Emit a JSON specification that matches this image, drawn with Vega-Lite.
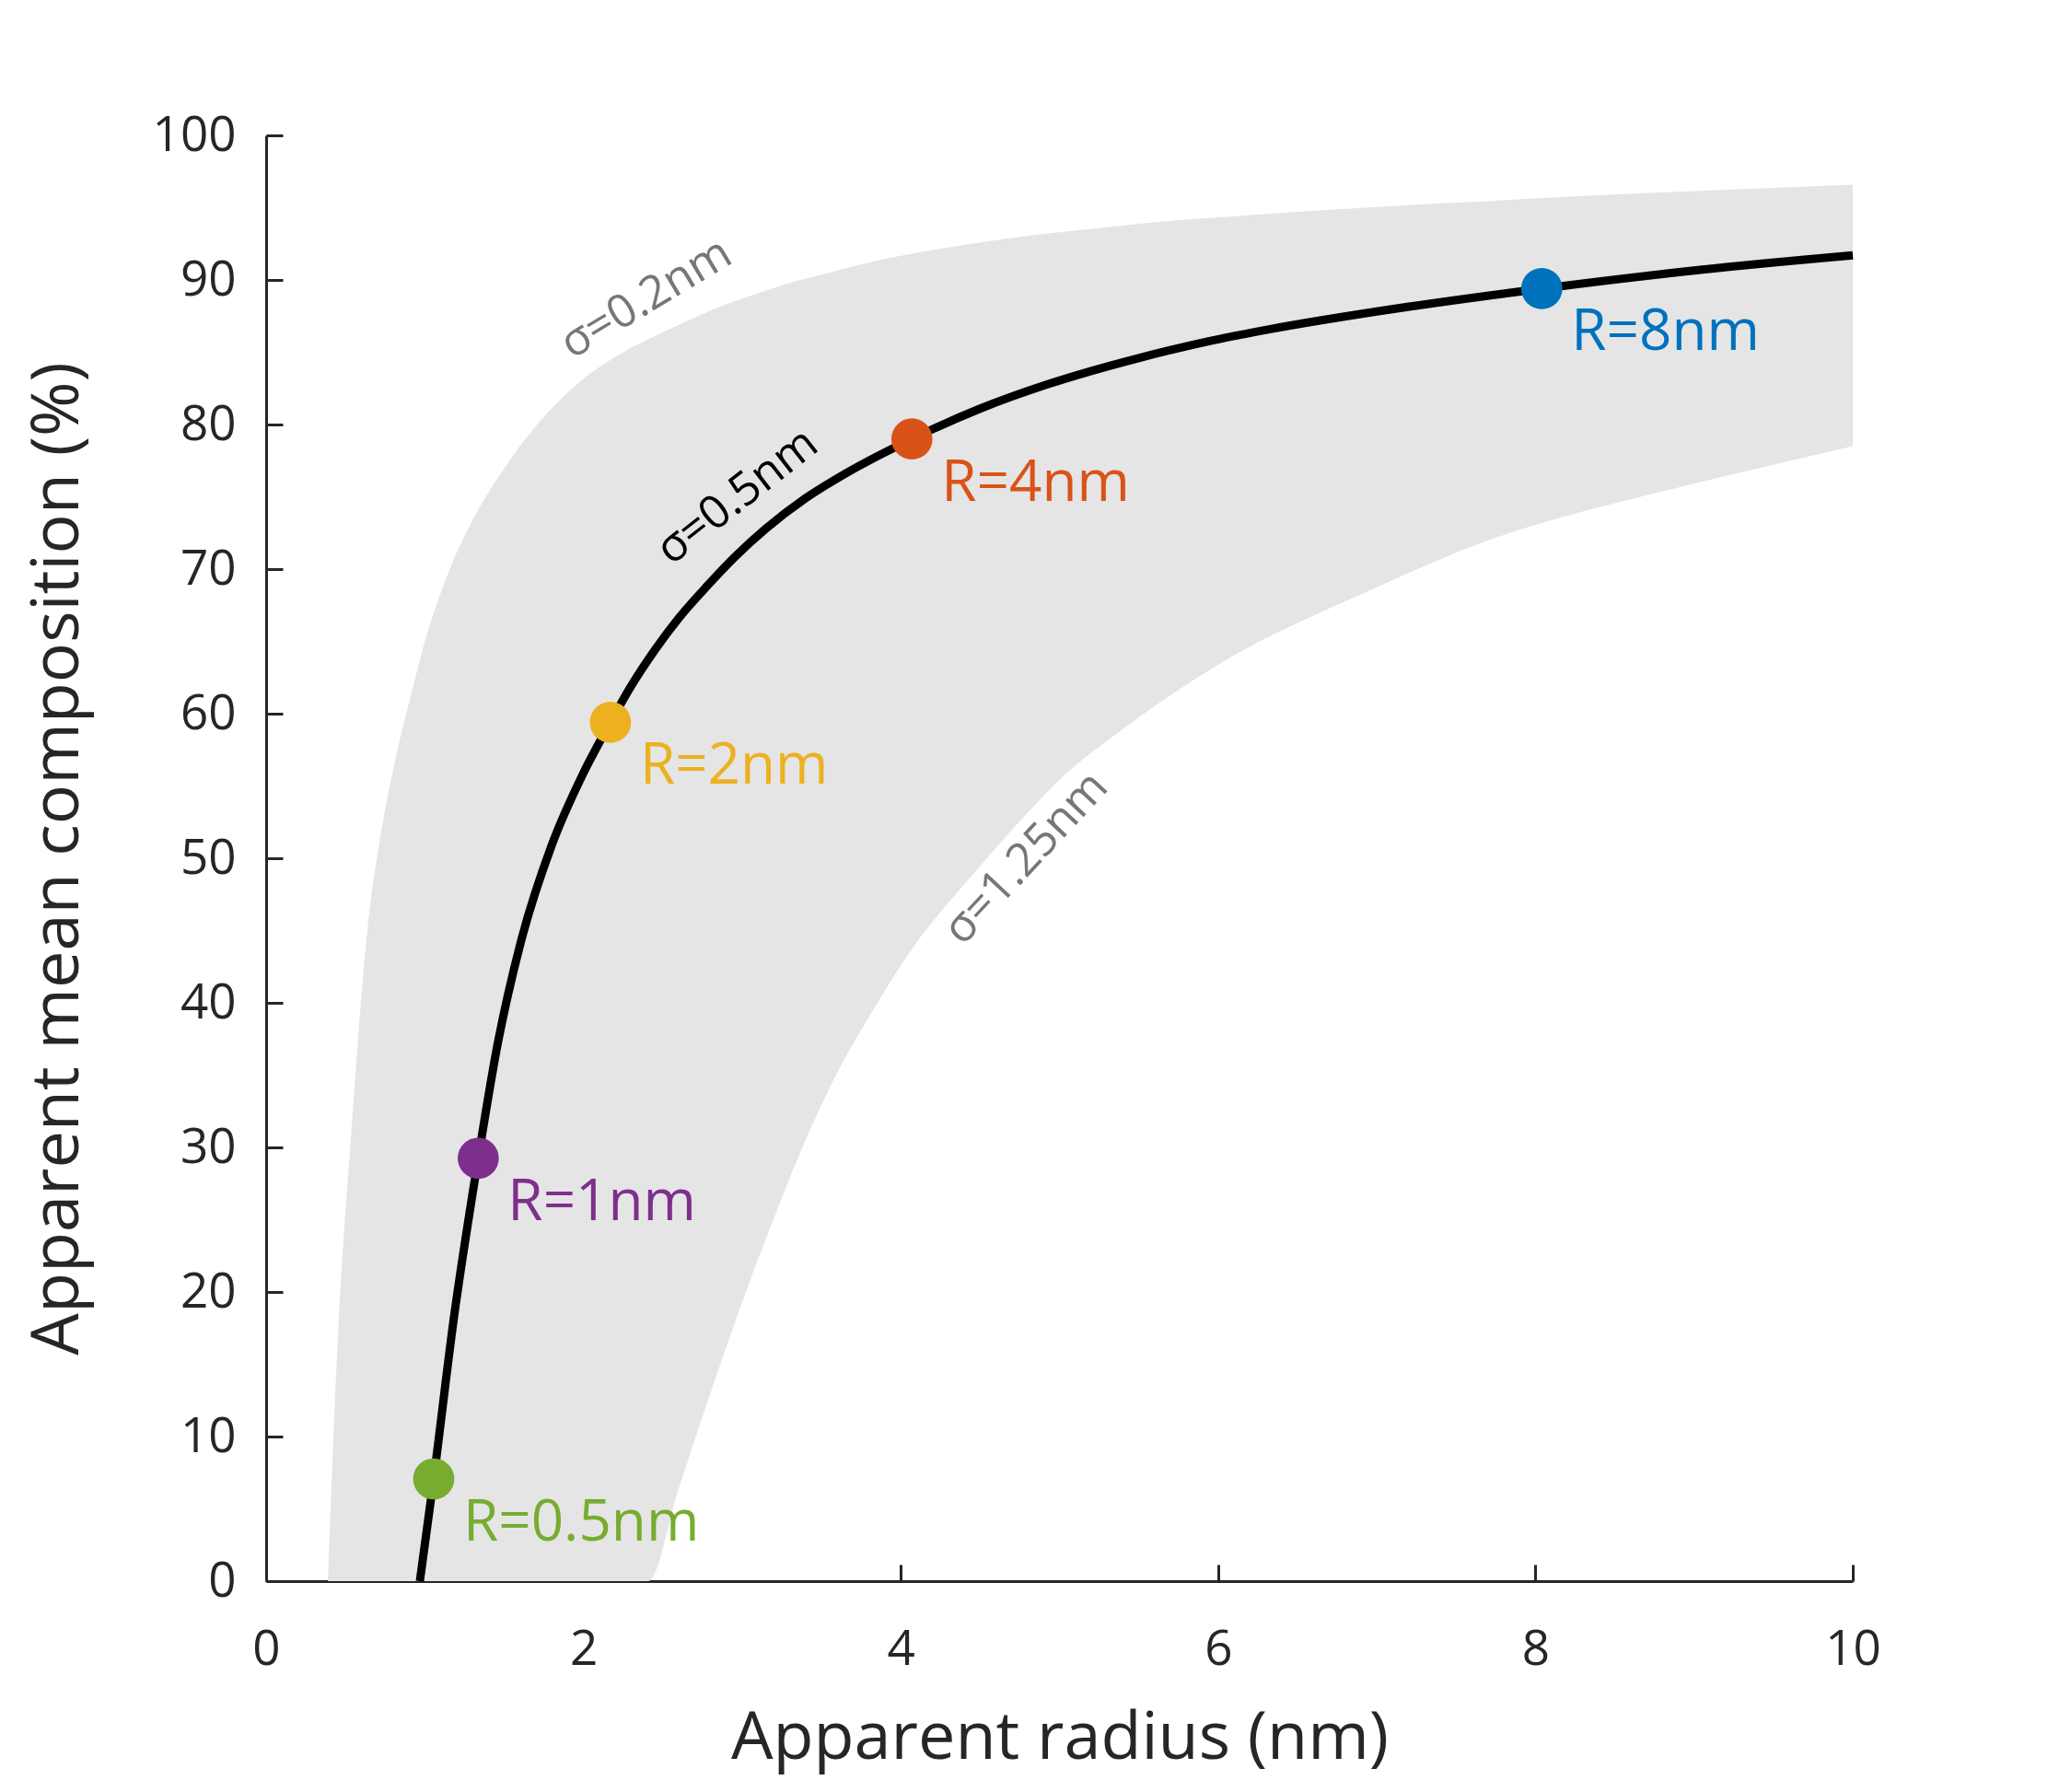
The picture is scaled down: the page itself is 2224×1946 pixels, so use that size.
{
  "$schema": "https://vega.github.io/schema/vega-lite/v6.json",
  "width": 1723,
  "height": 1570,
  "autosize": "none",
  "padding": {"left": 289, "top": 147, "right": 212, "bottom": 229},
  "background": "white",
  "config": {
    "view": {"stroke": null},
    "font": "Open Sans",
    "axis": {
      "labelFont": "Open Sans",
      "titleFont": "Open Sans",
      "labelColor": "#262626",
      "titleColor": "#262626",
      "domainColor": "#262626",
      "tickColor": "#262626",
      "domainWidth": 3,
      "tickWidth": 3,
      "tickSize": -18,
      "grid": false,
      "labelFlush": false,
      "labelFontSize": 53,
      "titleFontSize": 72,
      "titleFontWeight": "normal"
    }
  },
  "layer": [
    {
      "data": {
        "values": [
          {"x": 0.389, "lo": 0, "hi": 0},
          {"x": 0.406, "lo": 0, "hi": 4.9},
          {"x": 0.455, "lo": 0, "hi": 17.5},
          {"x": 0.537, "lo": 0, "hi": 31.0},
          {"x": 0.636, "lo": 0, "hi": 44.8},
          {"x": 0.736, "lo": 0, "hi": 52.5},
          {"x": 0.818, "lo": 0, "hi": 57.0},
          {"x": 0.934, "lo": 0, "hi": 62.2},
          {"x": 1.0, "lo": 0, "hi": 65.0},
          {"x": 1.089, "lo": 0, "hi": 68.0},
          {"x": 1.18, "lo": 0, "hi": 70.6},
          {"x": 1.283, "lo": 0, "hi": 73.0},
          {"x": 1.515, "lo": 0, "hi": 77.2},
          {"x": 1.708, "lo": 0, "hi": 80.0},
          {"x": 1.94, "lo": 0, "hi": 82.6},
          {"x": 2.25, "lo": 0, "hi": 85.0},
          {"x": 2.41, "lo": 0, "hi": 85.9},
          {"x": 2.6, "lo": 6.4, "hi": 86.9},
          {"x": 2.85, "lo": 14.6, "hi": 88.1},
          {"x": 3.05, "lo": 20.8, "hi": 88.9},
          {"x": 3.2, "lo": 25.1, "hi": 89.45},
          {"x": 3.353, "lo": 29.3, "hi": 89.95},
          {"x": 3.546, "lo": 34.0, "hi": 90.5},
          {"x": 3.836, "lo": 39.7, "hi": 91.3},
          {"x": 4.088, "lo": 44.0, "hi": 91.85},
          {"x": 4.417, "lo": 48.4, "hi": 92.45},
          {"x": 4.804, "lo": 53.2, "hi": 93.05},
          {"x": 4.997, "lo": 55.4, "hi": 93.3},
          {"x": 5.384, "lo": 58.8, "hi": 93.75},
          {"x": 5.771, "lo": 61.8, "hi": 94.15},
          {"x": 6.158, "lo": 64.4, "hi": 94.45},
          {"x": 6.545, "lo": 66.5, "hi": 94.75},
          {"x": 6.932, "lo": 68.4, "hi": 95.0},
          {"x": 7.319, "lo": 70.3, "hi": 95.25},
          {"x": 7.706, "lo": 72.0, "hi": 95.45},
          {"x": 8.015, "lo": 73.1, "hi": 95.65},
          {"x": 9.0, "lo": 75.9, "hi": 96.15},
          {"x": 10, "lo": 78.5, "hi": 96.6}
        ]
      },
      "mark": {"type": "area", "color": "#e5e5e5", "interpolate": "monotone"},
      "encoding": {
        "x": {
          "field": "x", "type": "quantitative",
          "scale": {"domain": [0, 10], "nice": false},
          "axis": {
            "values": [0, 2, 4, 6, 8, 10],
            "format": "d",
            "title": "Apparent radius (nm)",
            "labelPadding": 66,
            "titlePadding": 34
          }
        },
        "y": {
          "field": "lo", "type": "quantitative",
          "scale": {"domain": [0, 100], "nice": false},
          "axis": {
            "values": [0, 10, 20, 30, 40, 50, 60, 70, 80, 90, 100],
            "format": "d",
            "title": "Apparent mean composition (%)",
            "labelPadding": 51,
            "titlePadding": 66
          }
        },
        "y2": {"field": "hi"}
      }
    },
    {
      "data": {
        "values": [
          {"x": 0.969, "y": 0},
          {"x": 1.056, "y": 7.07},
          {"x": 1.182, "y": 18.1},
          {"x": 1.337, "y": 29.25},
          {"x": 1.46, "y": 37.2},
          {"x": 1.605, "y": 44.2},
          {"x": 1.8, "y": 50.9},
          {"x": 2.0, "y": 55.9},
          {"x": 2.17, "y": 59.4},
          {"x": 2.3, "y": 61.9},
          {"x": 2.45, "y": 64.4},
          {"x": 2.6, "y": 66.6},
          {"x": 2.76, "y": 68.6},
          {"x": 2.95, "y": 70.8},
          {"x": 3.15, "y": 72.8},
          {"x": 3.4, "y": 74.9},
          {"x": 3.65, "y": 76.6},
          {"x": 4.07, "y": 79.0},
          {"x": 4.5, "y": 81.1},
          {"x": 4.93, "y": 82.8},
          {"x": 5.5, "y": 84.6},
          {"x": 5.96, "y": 85.8},
          {"x": 6.33, "y": 86.6},
          {"x": 6.99, "y": 87.8},
          {"x": 8.04, "y": 89.4},
          {"x": 9.04, "y": 90.7},
          {"x": 10, "y": 91.7}
        ]
      },
      "mark": {"type": "line", "color": "black", "strokeWidth": 9, "interpolate": "monotone"},
      "encoding": {
        "x": {"field": "x", "type": "quantitative"},
        "y": {"field": "y", "type": "quantitative"}
      }
    },
    {
      "data": {
        "values": [
          {"x": 1.056, "y": 7.07, "label": "R=0.5nm"},
          {"x": 1.337, "y": 29.25, "label": "R=1nm"},
          {"x": 2.17, "y": 59.4, "label": "R=2nm"},
          {"x": 4.07, "y": 79.0, "label": "R=4nm"},
          {"x": 8.04, "y": 89.4, "label": "R=8nm"}
        ]
      },
      "layer": [
        {
          "mark": {"type": "circle", "size": 2000, "opacity": 1},
          "encoding": {
            "x": {"field": "x", "type": "quantitative"},
            "y": {"field": "y", "type": "quantitative"},
            "color": {
              "field": "label", "type": "nominal", "legend": null,
              "scale": {
                "domain": ["R=0.5nm", "R=1nm", "R=2nm", "R=4nm", "R=8nm"],
                "range": ["#77ac30", "#7e2f8e", "#edb120", "#d95319", "#0072bd"]
              }
            }
          }
        },
        {
          "mark": {"type": "text", "align": "left", "baseline": "alphabetic", "dx": 32, "dy": 67, "fontSize": 62, "font": "Open Sans"},
          "encoding": {
            "x": {"field": "x", "type": "quantitative"},
            "y": {"field": "y", "type": "quantitative"},
            "text": {"field": "label"},
            "color": {"field": "label", "type": "nominal", "legend": null}
          }
        }
      ]
    },
    {
      "data": {"values": [{"x": 2.395, "y": 88.7, "label": "σ=0.2nm"}]},
      "mark": {"type": "text", "angle": 329, "fontSize": 50, "color": "#777777", "align": "center", "baseline": "middle"},
      "encoding": {
        "x": {"field": "x", "type": "quantitative"},
        "y": {"field": "y", "type": "quantitative"},
        "text": {"field": "label"}
      }
    },
    {
      "data": {"values": [{"x": 2.97, "y": 75.0, "label": "σ=0.5nm"}]},
      "mark": {"type": "text", "angle": 322, "fontSize": 50, "color": "black", "align": "center", "baseline": "middle"},
      "encoding": {
        "x": {"field": "x", "type": "quantitative"},
        "y": {"field": "y", "type": "quantitative"},
        "text": {"field": "label"}
      }
    },
    {
      "data": {"values": [{"x": 4.79, "y": 50.0, "label": "σ=1.25nm"}]},
      "mark": {"type": "text", "angle": 313, "fontSize": 50, "color": "#777777", "align": "center", "baseline": "middle"},
      "encoding": {
        "x": {"field": "x", "type": "quantitative"},
        "y": {"field": "y", "type": "quantitative"},
        "text": {"field": "label"}
      }
    }
  ]
}
